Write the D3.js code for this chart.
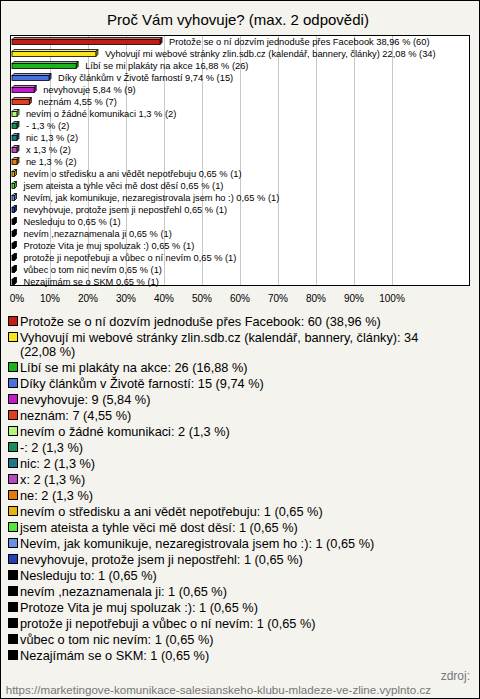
<!DOCTYPE html>
<html><head><meta charset="utf-8">
<script src="https://cdn.jsdelivr.net/npm/d3@7"></script>
<style>
html,body{margin:0;padding:0;background:#f4f3ee;}
svg{display:block;font-family:"Liberation Sans",Arial,sans-serif;}
</style></head>
<body><svg id="c" width="480" height="699"></svg>
<script>
const title = "Proč Vám vyhovuje? (max. 2 odpovědi)";
const categories = [
 "Protože se o ní dozvím jednoduše přes Facebook",
 "Vyhovují mi webové stránky zlin.sdb.cz (kalendář, bannery, články)",
 "Líbí se mi plakáty na akce",
 "Díky článkům v Životě farností",
 "nevyhovuje",
 "neznám",
 "nevím o žádné komunikaci",
 "-",
 "nic",
 "x",
 "ne",
 "nevím o středisku a ani vědět nepotřebuju",
 "jsem ateista a tyhle věci mě dost děsí",
 "Nevím, jak komunikuje, nezaregistrovala jsem ho :)",
 "nevyhovuje, protože jsem ji nepostřehl",
 "Nesleduju to",
 "nevím ,nezaznamenala ji",
 "Protoze Vita je muj spoluzak :)",
 "protože ji nepotřebuji a vůbec o ní nevím",
 "vůbec o tom nic nevím",
 "Nezajímám se o SKM"
];
const counts = [60,34,26,15,9,7,2,2,2,2,2,1,1,1,1,1,1,1,1,1,1];
const percents = [38.96,22.08,16.88,9.74,5.84,4.55,1.3,1.3,1.3,1.3,1.3,0.65,0.65,0.65,0.65,0.65,0.65,0.65,0.65,0.65,0.65];
const colors = ["#c41e14","#f8e41c","#1cb41c","#4a70dc","#c01ccc","#e0401c","#b4f478","#1c8c58","#1c7888","#b44cc0","#e47810","#e4b410","#54e43c","#6890e0","#2440b4","#000000","#000000","#000000","#000000","#000000","#000000"];
const ticks = [0,10,20,30,40,50,60,70,80,90,100];
const source1 = "zdroj:";
const source2 = "https://marketingove-komunikace-salesianskeho-klubu-mladeze-ve-zline.vyplnto.cz";

const fmt = v => String(v).replace(".", ",");
const svg = d3.select("#c");
const W = 480, H = 699;

svg.append("rect").attr("x",0.5).attr("y",0.5).attr("width",W-1).attr("height",H-1)
  .attr("fill","#f4f3ee").attr("stroke","#000");

svg.append("text").attr("x",238).attr("y",25).attr("text-anchor","middle")
  .attr("font-size",15).attr("fill","#000").text(title);

// plot area
const plot = {x0:10, x1:470, y0:35, y1:286};
svg.append("rect").attr("x",plot.x0+0.5).attr("y",plot.y0+0.5)
  .attr("width",plot.x1-plot.x0-1).attr("height",plot.y1-plot.y0-1)
  .attr("fill","#fff").attr("stroke","#000");

const x = d3.scaleLinear().domain([0,100]).range([12,392]);
const y = d3.scalePoint().domain(d3.range(categories.length)).range([41,281]);

svg.append("g").selectAll("line").data(ticks.slice(1)).join("line")
  .attr("x1",d=>Math.round(x(d))+0.5).attr("x2",d=>Math.round(x(d))+0.5)
  .attr("y1",plot.y0+1).attr("y2",plot.y1-1)
  .attr("stroke","#c8c8c8").attr("stroke-width",1);

svg.append("g").selectAll("text").data(ticks).join("text")
  .attr("x",d=> d===0 ? 17 : x(d)).attr("y",302).attr("text-anchor","middle")
  .attr("font-size",10).attr("fill","#000").text(d=>d+"%");

// 3D bars
const dep = 2;
const bars = svg.append("g");
categories.forEach((c,i)=>{
  const xs = x(0), xe = x(percents[i]);
  const top = y(i) - 1.5, bot = y(i) + 3.5;
  const col = d3.color(colors[i]);
  const light = colors[i]==="#000000" ? "#000" : d3.interpolateRgb(colors[i],"#fff")(0.35);
  const dark = colors[i]==="#000000" ? "#000" : col.darker(0.6).formatHex();
  bars.append("path").attr("d",`M${xs},${top}L${xs+dep},${top-dep}L${xe+dep},${top-dep}L${xe},${top}Z`)
    .attr("fill",light).attr("stroke","#000").attr("stroke-width",0.8).attr("stroke-linejoin","round");
  bars.append("path").attr("d",`M${xe},${top}L${xe+dep},${top-dep}L${xe+dep},${bot-dep}L${xe},${bot}Z`)
    .attr("fill",dark).attr("stroke","#000").attr("stroke-width",0.8).attr("stroke-linejoin","round");
  bars.append("rect").attr("x",xs).attr("y",top).attr("width",xe-xs).attr("height",bot-top)
    .attr("fill",colors[i]).attr("stroke","#000").attr("stroke-width",0.8);
  bars.append("text").attr("x",xe+dep+7).attr("y",y(i)+3.5)
    .attr("font-size",9.3).attr("fill","#000")
    .text(`${c} ${fmt(percents[i])} % (${counts[i]})`);
});

// legend
const leg = svg.append("g");
let ly = 321;
const maxW = 435;
const lfs = 12.75;
categories.forEach((c,i)=>{
  leg.append("rect").attr("x",8.5).attr("y",ly-4.5).attr("width",9).attr("height",9)
    .attr("fill",colors[i]).attr("stroke","#000").attr("stroke-width",1);
  const full = `${c}: ${counts[i]} (${fmt(percents[i])} %)`;
  const words = full.split(" ");
  let line = "";
  let t = leg.append("text").attr("x",20).attr("y",ly+4.5).attr("font-size",lfs).attr("fill","#000");
  for (const w of words) {
    const test = line ? line + " " + w : w;
    t.text(test);
    if (t.node().getComputedTextLength() > maxW && line) {
      t.text(line);
      ly += 14;
      t = leg.append("text").attr("x",20).attr("y",ly+4.5).attr("font-size",lfs).attr("fill","#000");
      line = w;
      t.text(line);
    } else line = test;
  }
  ly += 16;
});

svg.append("text").attr("x",470).attr("y",680).attr("text-anchor","end")
  .attr("font-size",12).attr("fill","#777").text(source1);
svg.append("text").attr("x",431).attr("y",694).attr("text-anchor","end")
  .attr("font-size",11.6).attr("fill","#777").text(source2);
</script></body></html>
